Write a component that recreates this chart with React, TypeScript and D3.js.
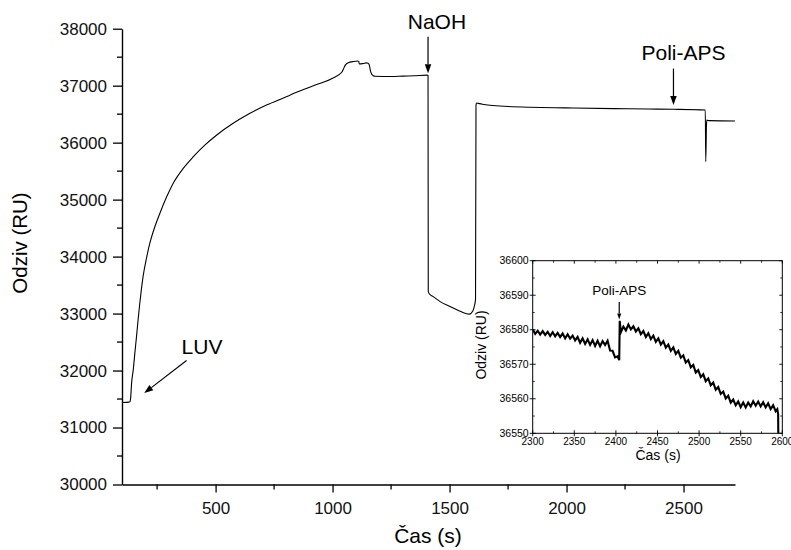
import React, { useRef, useEffect } from "react";
import * as d3 from "d3";

// main sensorgram: time (s) and response (RU)
const mainTime = [
  100, 120, 134, 137, 141, 148, 155, 162, 169, 176, 183, 190, 205, 219, 240, 262, 290, 319, 360, 405,
  455, 505, 575, 647, 720, 790, 860, 932, 1000, 1040, 1046, 1055, 1067, 1090, 1108, 1112, 1114, 1130,
  1145, 1152, 1157, 1162, 1167, 1174, 1181, 1250, 1300, 1350, 1404, 1408, 1409, 1415, 1430, 1460, 1502,
  1540, 1566, 1584, 1600, 1606, 1611, 1613, 1616, 1622, 1640, 1673, 1750, 1844, 2000, 2201, 2350, 2457,
  2593, 2595, 2598, 2600, 2610, 2720,
];
const mainSignal = [
  31440, 31442, 31452, 31520, 31779, 32012, 32310, 32596, 32900, 33182, 33430, 33649, 33980, 34235, 34520,
  34761, 35040, 35288, 35540, 35754, 35960, 36135, 36340, 36516, 36665, 36785, 36905, 37020, 37130, 37240,
  37290, 37365, 37404, 37425, 37433, 37425, 37381, 37388, 37400, 37395, 37363, 37260, 37205, 37175, 37165,
  37160, 37168, 37175, 37186, 37180, 33386, 33340, 33298, 33210, 33123, 33050, 33007, 32990, 33050, 33130,
  33250, 36660, 36695, 36690, 36675, 36656, 36635, 36621, 36610, 36597, 36590, 36586, 36574, 35667, 36300,
  36395, 36386, 36380,
];

// inset: zoom on the Poli-APS injection
const insetTime = [
  2300, 2303, 2306, 2309, 2312, 2315, 2318, 2321, 2324, 2327, 2330, 2333, 2336, 2339, 2342, 2345, 2348,
  2351, 2354, 2357, 2360, 2363, 2366, 2369, 2372, 2375, 2378, 2381, 2384, 2387, 2390, 2393, 2396, 2399,
  2402, 2404, 2404.6, 2406, 2409, 2412, 2415, 2418, 2421, 2424, 2427, 2430, 2433, 2436, 2439, 2442, 2445,
  2448, 2451, 2454, 2457, 2460, 2463, 2466, 2469, 2472, 2475, 2478, 2481, 2484, 2487, 2490, 2493, 2496,
  2499, 2502, 2505, 2508, 2511, 2514, 2517, 2520, 2523, 2526, 2529, 2532, 2535, 2538, 2541, 2544, 2547,
  2550, 2553, 2556, 2559, 2562, 2565, 2568, 2571, 2574, 2577, 2580, 2583, 2586, 2589, 2592, 2594, 2595,
  2595.5,
];
const insetSignal = [
  36580.1, 36578.8, 36579.7, 36578.6, 36579.6, 36578.5, 36579.4, 36578.2, 36579.3, 36578.1, 36579.1,
  36577.9, 36578.9, 36577.5, 36578.7, 36577.4, 36578.3, 36576.9, 36577.9, 36576.2, 36577.5, 36575.9,
  36577.2, 36575.6, 36577.0, 36575.3, 36576.8, 36575.2, 36576.7, 36575.6, 36576.8, 36574.0, 36573.9,
  36572.0, 36572.3, 36571.2, 36582.6, 36579.3, 36580.9, 36579.8, 36581.5, 36580.1, 36581.0, 36579.5,
  36580.4, 36578.7, 36579.6, 36577.9, 36579.0, 36577.3, 36578.3, 36576.5, 36577.5, 36575.7, 36576.7,
  36574.8, 36575.7, 36573.9, 36574.9, 36573.0, 36573.9, 36571.9, 36572.6, 36570.5, 36571.2, 36569.1,
  36569.8, 36567.6, 36568.3, 36566.3, 36567.1, 36565.1, 36565.9, 36563.9, 36564.7, 36562.6, 36563.4,
  36561.4, 36562.1, 36560.1, 36560.9, 36558.9, 36559.8, 36558.1, 36559.2, 36557.6, 36558.9, 36557.5,
  36558.9, 36557.8, 36559.3, 36558.0, 36559.2, 36557.8, 36559.0, 36557.5, 36558.7, 36557.0, 36558.1,
  36556.4, 36557.0, 36555.5, 36540,
];

const mainXTicks = [500, 1000, 1500, 2000, 2500];
const mainXMinor = [250, 750, 1250, 1750, 2250];
const mainYTicks = [30000, 31000, 32000, 33000, 34000, 35000, 36000, 37000, 38000];
const mainYMinor = [30500, 31500, 32500, 33500, 34500, 35500, 36500, 37500];
const insetXTicks = [2300, 2350, 2400, 2450, 2500, 2550, 2600];
const insetXMinor = [2325, 2375, 2425, 2475, 2525, 2575];
const insetYTicks = [36550, 36560, 36570, 36580, 36590, 36600];
const insetYMinor = [36555, 36565, 36575, 36585, 36595];

// annotation arrows: label position and arrow ends, in data units
const mainNotes = [
  { label: "NaOH", tx: 1446, ty: 38000, from: [1408, 37860], to: [1408, 37220] },
  { label: "Poli-APS", tx: 2500, ty: 37450, from: [2457, 37300], to: [2457, 36660] },
  { label: "LUV", tx: 442, ty: 32290, from: [376, 32175], to: [195, 31604] },
];

const FONT = "'Liberation Sans', Arial, sans-serif";

const App = () => {
  const ref = useRef(null);
  const width = 791;
  const height = 550;

  function drawArrow(g, x1, y1, x2, y2, headLen, headW) {
    const ang = Math.atan2(y2 - y1, x2 - x1);
    const bx = x2 - headLen * Math.cos(ang);
    const by = y2 - headLen * Math.sin(ang);
    g.append("line")
      .attr("x1", x1).attr("y1", y1).attr("x2", bx).attr("y2", by)
      .attr("stroke", "#000").attr("stroke-width", 1.2);
    const px = -Math.sin(ang) * headW / 2;
    const py = Math.cos(ang) * headW / 2;
    g.append("path")
      .attr("d", `M${x2},${y2}L${bx + px},${by + py}L${bx - px},${by - py}Z`)
      .attr("fill", "#000");
  }

  useEffect(() => {
    const svg = d3.select(ref.current);
    svg.selectAll("*").remove();

    // ---------- main chart ----------
    const x = d3.scaleLinear().domain([100, 2720]).range([122, 735]);
    const y = d3.scaleLinear().domain([30000, 38000]).range([484.5, 28.7]);

    const main = svg.append("g");
    const line = d3
      .line()
      .x((d) => x(d[0]))
      .y((d) => y(d[1]))
      .curve(d3.curveMonotoneX);
    main.append("path")
      .datum(mainTime.map((t, i) => [t, mainSignal[i]]))
      .attr("d", line)
      .attr("fill", "none")
      .attr("stroke", "#000")
      .attr("stroke-width", 1.1);

    const xAxis = main.append("g")
      .attr("transform", `translate(0,${y(30000)})`)
      .call(d3.axisBottom(x).tickValues(mainXTicks).tickFormat(d3.format("d")).tickSize(8).tickSizeOuter(0).tickPadding(6));
    mainXMinor.forEach((v) => {
      xAxis.append("line").attr("x1", x(v)).attr("x2", x(v)).attr("y1", 0).attr("y2", 5)
        .attr("stroke", "#000").attr("stroke-width", 1.3);
    });

    const yAxis = main.append("g")
      .attr("transform", `translate(${x(100)},0)`)
      .call(d3.axisLeft(y).tickValues(mainYTicks).tickFormat(d3.format("d")).tickSize(9).tickSizeOuter(0).tickPadding(6));
    mainYMinor.forEach((v) => {
      yAxis.append("line").attr("x1", -5).attr("x2", 0).attr("y1", y(v)).attr("y2", y(v))
        .attr("stroke", "#000").attr("stroke-width", 1.3);
    });

    [xAxis, yAxis].forEach((a) => {
      a.select(".domain").attr("stroke-width", 1.4);
      a.selectAll(".tick line").attr("stroke-width", 1.3);
      a.selectAll("text").style("font-size", "17px").style("font-family", FONT).attr("fill", "#111");
    });
    xAxis.selectAll("text").attr("dy", "0.9em");

    main.append("text")
      .attr("x", 428).attr("y", 543)
      .attr("text-anchor", "middle")
      .style("font-size", "21px").style("font-family", FONT)
      .text("Čas (s)");
    main.append("text")
      .attr("transform", "translate(26.5,243) rotate(-90)")
      .attr("text-anchor", "middle")
      .style("font-size", "20.5px").style("font-family", FONT)
      .text("Odziv (RU)");

    mainNotes.forEach((n) => {
      main.append("text")
        .attr("x", x(n.tx)).attr("y", y(n.ty))
        .attr("text-anchor", "middle")
        .style("font-size", "21px").style("font-family", FONT)
        .text(n.label);
      drawArrow(main, x(n.from[0]), y(n.from[1]), x(n.to[0]), y(n.to[1]), 9, 6.5);
    });

    // ---------- inset ----------
    const ix = d3.scaleLinear().domain([2300, 2600]).range([532.7, 782.3]);
    const iy = d3.scaleLinear().domain([36550, 36600]).range([433.3, 260.7]);
    const inset = svg.append("g");
    inset.append("rect")
      .attr("x", ix(2300)).attr("y", iy(36600))
      .attr("width", ix(2600) - ix(2300)).attr("height", iy(36550) - iy(36600))
      .attr("fill", "#fff");

    svg.append("defs").append("clipPath").attr("id", "insetClip")
      .append("rect")
      .attr("x", ix(2300)).attr("y", iy(36600))
      .attr("width", ix(2600) - ix(2300)).attr("height", iy(36550) - iy(36600));

    inset.append("path")
      .datum(insetTime.map((t, i) => [t, insetSignal[i]]))
      .attr("clip-path", "url(#insetClip)")
      .attr("d", d3.line().x((d) => ix(d[0])).y((d) => iy(d[1])))
      .attr("fill", "none")
      .attr("stroke", "#000")
      .attr("stroke-width", 2.1)
      .attr("stroke-linejoin", "miter");

    const tick = (x1, y1, x2, y2, w) =>
      inset.append("line").attr("x1", x1).attr("y1", y1).attr("x2", x2).attr("y2", y2)
        .attr("stroke", "#000").attr("stroke-width", w);

    insetXTicks.forEach((v) => {
      tick(ix(v), iy(36550) + 3, ix(v), iy(36550) - 3, 0.9);
      tick(ix(v), iy(36600), ix(v), iy(36600) + 3, 0.9);
      inset.append("text")
        .attr("x", ix(v)).attr("y", iy(36550) + 11.5)
        .attr("text-anchor", "middle")
        .style("font-size", "10px").style("font-family", FONT)
        .text(v);
    });
    insetXMinor.forEach((v) => {
      tick(ix(v), iy(36550), ix(v), iy(36550) - 2, 0.8);
      tick(ix(v), iy(36600), ix(v), iy(36600) + 2, 0.8);
    });
    insetYTicks.forEach((v) => {
      tick(ix(2300) - 3, iy(v), ix(2300) + 3, iy(v), 0.9);
      tick(ix(2600), iy(v), ix(2600) - 3, iy(v), 0.9);
      inset.append("text")
        .attr("x", ix(2300) - 4).attr("y", iy(v)).attr("dy", "0.35em")
        .attr("text-anchor", "end")
        .style("font-size", "10.5px").style("font-family", FONT)
        .text(v);
    });
    insetYMinor.forEach((v) => {
      tick(ix(2300), iy(v), ix(2300) + 2, iy(v), 0.8);
      tick(ix(2600), iy(v), ix(2600) - 2, iy(v), 0.8);
    });

    inset.append("rect")
      .attr("x", ix(2300)).attr("y", iy(36600))
      .attr("width", ix(2600) - ix(2300)).attr("height", iy(36550) - iy(36600))
      .attr("fill", "none").attr("stroke", "#000").attr("stroke-width", 1);

    inset.append("text")
      .attr("x", 658).attr("y", 459.5)
      .attr("text-anchor", "middle")
      .style("font-size", "14px").style("font-family", FONT)
      .text("Čas (s)");
    inset.append("text")
      .attr("transform", "translate(486,345) rotate(-90)")
      .attr("text-anchor", "middle")
      .style("font-size", "14px").style("font-family", FONT)
      .text("Odziv (RU)");
    inset.append("text")
      .attr("x", ix(2404)).attr("y", iy(36590.2))
      .attr("text-anchor", "middle")
      .style("font-size", "13.5px").style("font-family", FONT)
      .text("Poli-APS");
    drawArrow(inset, ix(2404), iy(36588), ix(2404), iy(36583), 6, 4);
  });

  return (
    <svg
      ref={ref}
      width={width}
      height={height}
      style={{ position: "absolute", left: 0, top: 0, background: "#fff" }}
    />
  );
};

export default App;
